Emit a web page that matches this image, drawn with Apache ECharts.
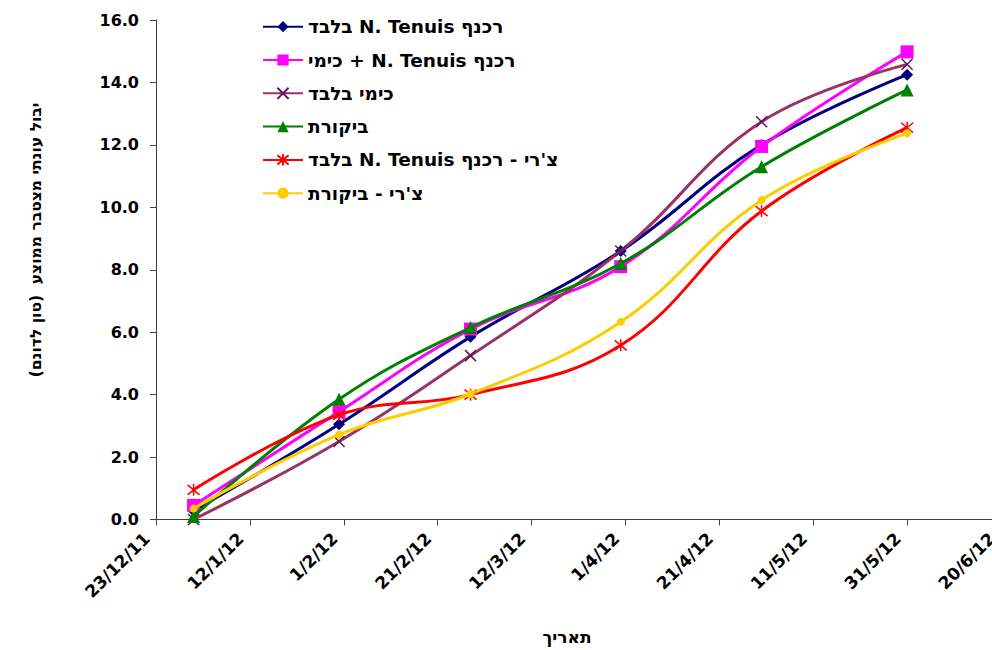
<!DOCTYPE html>
<html>
<head>
<meta charset="utf-8">
<script src="https://cdn.jsdelivr.net/npm/echarts@6/dist/echarts.min.js"></script>
<style>
  html, body { margin: 0; padding: 0; background: #ffffff; }
  #chart { width: 992px; height: 650px; }
</style>
</head>
<body>
<div id="chart"></div>
<script>
// Sampling dates (cumulative seasonal yield measurements)
const sampleDates = ['2011-12-31', '2012-01-31', '2012-02-28', '2012-03-31', '2012-04-30', '2012-05-31'];

// Mean cumulative seasonal yield (ton per dunam)
const tenuisOnly   = [0.28, 3.05, 5.85, 8.60, 12.00, 14.25];
const tenuisChem   = [0.45, 3.45, 6.10, 8.10, 11.95, 14.98];
const chemOnly     = [0.00, 2.50, 5.25, 8.60, 12.74, 14.58];
const control      = [0.10, 3.85, 6.15, 8.20, 11.30, 13.76];
const cherryTenuis = [0.95, 3.35, 4.00, 5.58, 9.88, 12.55];
const cherryCtrl   = [0.35, 2.72, 4.02, 6.33, 10.23, 12.37];

// Series names (right-to-left text)
const seriesNames = [
  'רכנף N. Tenuis בלבד',
  'רכנף N. Tenuis + כימי ',
  'כימי בלבד',
  'ביקורת',
  'צ\'רי - רכנף N. Tenuis בלבד',
  'צ\'רי - ביקורת'
];

const yAxisTitle = 'יבול עונתי מצטבר ממוצע  (טון לדונם)';
const xAxisTitle = 'תאריך';

// Axis range: days counted from 23/12/11, labelled every 20 days
const axisStartUTC = Date.UTC(2011, 11, 23);
const DAY = 86400000;
const xMinDay = 0, xMaxDay = 180, xStepDay = 20;
const yMin = 0, yMax = 16, yStep = 2;

// Right-to-left embedding so mixed Hebrew/Latin strings keep their order
const rtl = s => '\u202B' + s + '\u202C';

function dayOffset(iso) {
  const [y, m, d] = iso.split('-').map(Number);
  return (Date.UTC(y, m - 1, d) - axisStartUTC) / DAY;
}
function dayLabel(v) {
  const dt = new Date(axisStartUTC + v * DAY);
  const yy = String(dt.getUTCFullYear() % 100).padStart(2, '0');
  return dt.getUTCDate() + '/' + (dt.getUTCMonth() + 1) + '/' + yy;
}
const pairs = vals => sampleDates.map((d, i) => [dayOffset(d), vals[i]]);

const FONT = '"DejaVu Sans", "Liberation Sans", Arial, sans-serif';

const styles = [
  { data: tenuisOnly,   color: '#000080', symbol: 'diamond', size: 12 },
  { data: tenuisChem,   color: '#FF00FF', symbol: 'rect', size: 13 },
  { data: chemOnly,     color: '#993366', symbol: 'path://M0,0L10,10M10,0L0,10', size: 11, stroke: '#5c1858' },
  { data: control,      color: '#008000', symbol: 'triangle', size: 13 },
  { data: cherryTenuis, color: '#FF0000', symbol: 'path://M0,0L10,10M10,0L0,10M5,-1L5,11', size: 12, stroke: '#FF0000' },
  { data: cherryCtrl,   color: '#FFCC00', symbol: 'circle', size: 8 }
];

const series = styles.map((s, i) => ({
  name: rtl(seriesNames[i]),
  type: 'line',
  smooth: 0.4,
  data: pairs(s.data),
  symbol: s.symbol,
  symbolSize: s.size,
  showAllSymbol: true,
  lineStyle: { color: s.color, width: 3 },
  itemStyle: s.stroke
    ? { color: 'rgba(0,0,0,0)', borderColor: s.stroke, borderWidth: 1.5 }
    : { color: s.color, borderWidth: 0 },
  emphasis: { disabled: true },
  z: 2 + i
}));

const chart = echarts.init(document.getElementById('chart'), null, { renderer: 'svg' });
chart.setOption({
  animation: false,
  backgroundColor: '#ffffff',
  grid: { left: 156, top: 20, width: 845, height: 499.5, containLabel: false, outerBoundsMode: 'none' },
  legend: {
    orient: 'vertical',
    left: 262,
    top: 16.7,
    padding: 0,
    itemWidth: 40,
    itemHeight: 14,
    itemGap: 13.3,
    textStyle: { fontFamily: FONT, fontWeight: 'bold', fontSize: 18.5, lineHeight: 20, color: '#000000' },
    data: series.map(s => s.name)
  },
  xAxis: {
    type: 'value',
    min: xMinDay, max: xMaxDay, interval: xStepDay,
    axisLine: { lineStyle: { color: '#404040', width: 1 } },
    axisTick: { show: true, length: 6, lineStyle: { color: '#404040' } },
    splitLine: { show: false },
    axisLabel: {
      rotate: 45, margin: 7, padding: [0, 13, 0, 0], hideOverlap: false,
      fontFamily: FONT, fontWeight: 'bold', fontSize: 17, color: '#000000',
      formatter: dayLabel
    }
  },
  yAxis: {
    type: 'value',
    min: yMin, max: yMax, interval: yStep,
    axisLine: { show: true, lineStyle: { color: '#404040', width: 1 } },
    axisTick: { show: true, length: 6, lineStyle: { color: '#404040' } },
    splitLine: { show: false },
    axisLabel: {
      margin: 17,
      fontFamily: FONT, fontWeight: 'bold', fontSize: 16, color: '#000000',
      formatter: v => v.toFixed(1)
    }
  },
  graphic: [
    {
      type: 'text', x: 36, y: 240, rotation: Math.PI / 2,
      style: {
        text: rtl(yAxisTitle), align: 'center', verticalAlign: 'middle',
        fontFamily: FONT, fontWeight: 'bold', fontSize: 15.5, fill: '#000000'
      }
    },
    {
      type: 'text', x: 567, y: 637,
      style: {
        text: xAxisTitle, align: 'center', verticalAlign: 'middle',
        fontFamily: FONT, fontWeight: 'bold', fontSize: 17, fill: '#000000'
      }
    }
  ],
  series: series
});
</script>
</body>
</html>
